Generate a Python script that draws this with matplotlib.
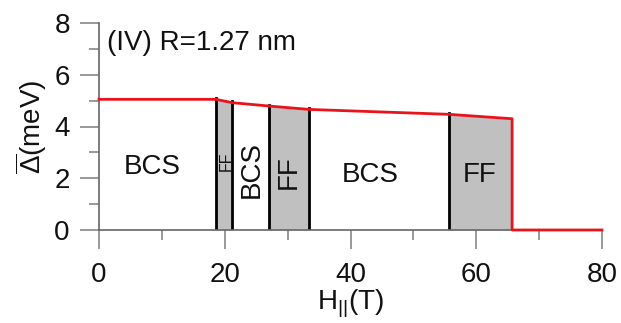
import numpy as np
import matplotlib
matplotlib.use("Agg")
import matplotlib.pyplot as plt

plt.rcParams['font.family'] = ['Liberation Sans', 'DejaVu Sans']
plt.rcParams['mathtext.fontset'] = 'custom'
plt.rcParams['mathtext.rm'] = 'Liberation Sans'
plt.rcParams['mathtext.it'] = 'Liberation Sans'
plt.rcParams['mathtext.default'] = 'regular'

# Gap curve (field in T, averaged gap in meV)
field = [0, 18.6, 21.2, 27.1, 33.4, 55.7, 65.7, 65.7, 80]
gap = [5.05, 5.05, 4.92, 4.79, 4.66, 4.47, 4.30, 0.0, 0.0]

# Phase boundaries and phase names
edges = [0, 18.6, 21.2, 27.1, 33.4, 55.7, 65.7]
phases = ['BCS', 'FF', 'BCS', 'FF', 'BCS', 'FF']
boundary_lines = [18.6, 21.2, 27.1, 33.4, 55.7]

# Phase label placement: (H, gap, rotation, fontsize)
label_pos = [(8.4, 2.45, 0, 20), (20.2, 2.64, 90, 11.5), (24.3, 2.32, 90, 20),
             (30.1, 2.24, 90, 20), (43.1, 2.13, 0, 20), (60.6, 2.13, 0, 20)]

fig = plt.figure(figsize=(6.21, 3.23), dpi=100)
ax = fig.add_axes([99/621, 1-230/323, 503/621, 207/323])

f_curve = np.array(field[:7])
g_curve = np.array(gap[:7])

for (lo, hi), name in zip(zip(edges[:-1], edges[1:]), phases):
    if name == 'FF':
        xs = np.linspace(lo, hi, 50)
        ax.fill_between(xs, 0, np.interp(xs, f_curve, g_curve),
                        color='#c0c0c0', lw=0, zorder=1)

for b in boundary_lines:
    ax.plot([b, b], [0, np.interp(b, f_curve, g_curve) + 0.06],
            color='black', lw=2.0, zorder=2)

ax.plot(field, gap, color='#e8131b', lw=2.0, zorder=3, clip_on=False)

for name, (x, y, rot, fs) in zip(phases, label_pos):
    ax.text(x, y, name, rotation=rot, fontsize=fs, ha='center', va='center',
            color='#111111', zorder=4)

ax.text(1.3, 7.23, '(IV) R=1.27 nm', fontsize=20, ha='left', va='center',
        color='#111111')

ax.set_xlim(0, 80)
ax.set_ylim(0, 8)
ax.set_xticks([0, 20, 40, 60, 80])
ax.set_xticks([10, 30, 50, 70], minor=True)
ax.set_yticks([0, 2, 4, 6, 8])
ax.set_yticks([1, 3, 5, 7], minor=True)

for s in ['top', 'right']:
    ax.spines[s].set_visible(False)
for s in ['left', 'bottom']:
    ax.spines[s].set_color('#666666')
    ax.spines[s].set_linewidth(1.2)

ax.tick_params(axis='both', which='major', direction='out', length=14,
               width=1.2, color='#888888', labelsize=20, labelcolor='#111111')
ax.tick_params(axis='both', which='minor', direction='out', length=7,
               width=1.2, color='#888888')
ax.tick_params(axis='x', which='major', pad=9)
ax.tick_params(axis='y', which='major', pad=7)

ax.set_xlabel(r'H$_{\mathrm{||}}$(T)', fontsize=20, color='#111111',
              labelpad=0)
ax.set_ylabel('$\\overline{\\mathrm{\u0394}}$(meV)', fontsize=20,
              color='#111111', labelpad=4)

fig.savefig('out.png', dpi=100)
